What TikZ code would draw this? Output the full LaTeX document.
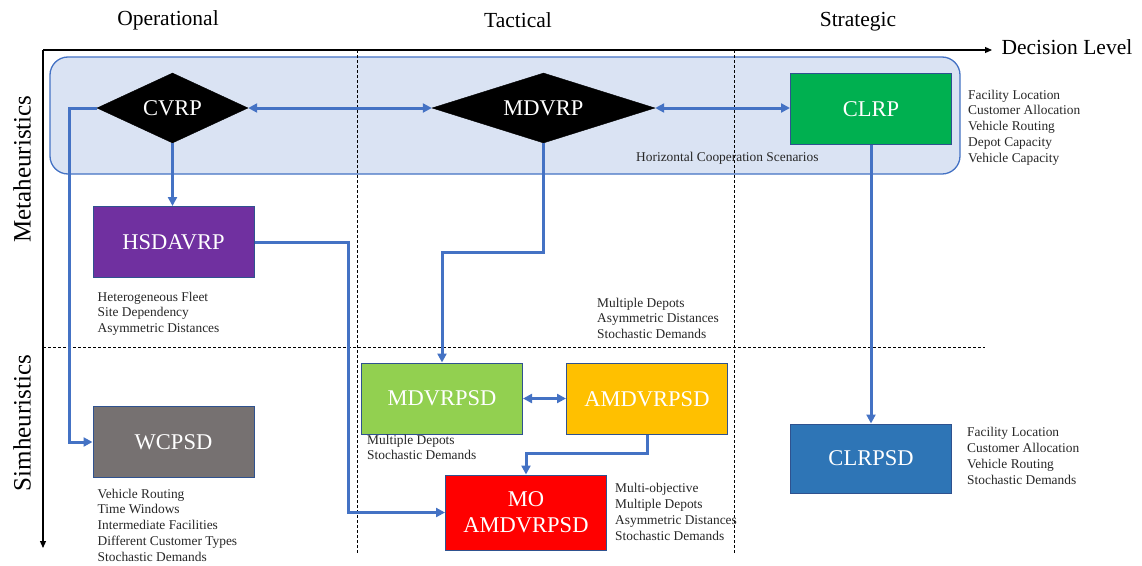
\documentclass[tikz,border=0pt]{standalone}
\usepackage{fontspec}
\setmainfont{Liberation Serif}
\usepackage{xcolor}
\usepackage{tikz}
\usetikzlibrary{positioning,arrows.meta,shapes.geometric}

\definecolor{linkblue}{HTML}{4472C4}
\definecolor{panelfill}{HTML}{DAE3F3}
\definecolor{boxline}{HTML}{2F528F}
\definecolor{clrpgreen}{HTML}{00B050}
\definecolor{hsdpurple}{HTML}{7030A0}
\definecolor{mdgreen}{HTML}{92D050}
\definecolor{amdorange}{HTML}{FFC000}
\definecolor{wcgray}{HTML}{767171}
\definecolor{mored}{HTML}{FF0000}
\definecolor{clrpsdblue}{HTML}{2E75B6}

\begin{document}
\begin{tikzpicture}[
  x=1pt, y=-1pt,
  block/.style={draw=boxline, line width=1pt, minimum width=161pt,
    minimum height=71pt, inner sep=0pt, align=center, text=white,
    font=\fontsize{22.5}{26}\selectfont},
  dia/.style={diamond, draw=black, fill=black, inner sep=0pt, text=white,
    minimum height=70pt, font=\fontsize{22.5}{26}\selectfont},
  lst/.style={inner sep=0pt, align=left, text=black!85,
    font=\fontsize{13.4}{15.9}\selectfont},
  lvl/.style={font=\fontsize{21.5}{25}\selectfont},
  side/.style={font=\fontsize{25}{29}\selectfont, rotate=90},
  axis/.style={line width=1.1pt, -{Triangle[length=7pt,width=6pt]}},
  sep/.style={line width=0.9pt, dash pattern=on 3pt off 2pt},
  link/.style={draw=linkblue, line width=3pt,
    -{Triangle[length=9pt,width=9pt]}},
  both/.style={link, {Triangle[length=9pt,width=9pt]}-{Triangle[length=9pt,width=9pt]}}
]
\useasboundingbox (0,0) rectangle (1142,565);
\draw[linkblue, line width=1.3pt, fill=panelfill, rounded corners=18pt] (50,57) rectangle (960,174);
\draw[sep] (357,50) -- (357,553);
\draw[sep] (734,50) -- (734,553);
\draw[sep] (43,347) -- (985,347);
\coordinate (origin) at (43,50);
\coordinate (yend) at (43,548);
\node[lvl, anchor=west] (declvl) at (998,47) {Decision Level};
\draw[axis] (origin) -- ([xshift=-6pt]declvl.west |- origin);
\draw[axis] (origin) -- (yend);
\node[lvl] (oper) at (168,20) {Operational};
\node[lvl] (tact) at (518,20) {Tactical};
\node[lvl] (strat) at (858,22) {Strategic};
\node[side] (meta) at (22,169) {Metaheuristics};
\node[side] (sim) at (22,423) {Simheuristics};

\node[dia, aspect=2.16, minimum width=151pt] (cvrp) at (172.5,108) {CVRP};
\node[dia, aspect=3.19, minimum width=223pt] (mdvrp) at (543.5,108) {MDVRP};
\node[block, fill=clrpgreen] (clrp) at (871,109) {CLRP};
\node[block, fill=hsdpurple] (hsdavrp) at (173.5,242) {HSDAVRP};
\node[block, fill=mdgreen] (mdvrpsd) at (442,398.5) {MDVRPSD};
\node[block, fill=amdorange] (amdvrpsd) at (647,399) {AMDVRPSD};
\node[block, fill=wcgray] (wcpsd) at (173.5,442) {WCPSD};
\node[block, fill=mored, minimum height=75pt] (mo) at (526,512.5) {MO\\AMDVRPSD};
\node[block, fill=clrpsdblue, minimum height=69pt] (clrpsd) at (871,458.5) {CLRPSD};

\node[lst, anchor=west] (hcs) at (636,158) {Horizontal Cooperation Scenarios};
\node[lst, below right=16.5pt and 16pt of clrp.north east] (clrpinfo) {Facility Location\\Customer Allocation\\Vehicle Routing\\Depot Capacity\\Vehicle Capacity};
\node[lst, below right=13.5pt and 5pt of hsdavrp.south west] (hsdinfo) {Heterogeneous Fleet\\Site Dependency\\Asymmetric Distances};
\node[lst, anchor=north west] (tacinfo) at (597,297.5) {Multiple Depots\\Asymmetric Distances\\Stochastic Demands};
\node[lst, below right=0pt and 6pt of mdvrpsd.south west] (mdinfo) {Multiple Depots\\Stochastic Demands};
\node[lst, below right=10.5pt and 5pt of wcpsd.south west] (wcinfo) {Vehicle Routing\\Time Windows\\Intermediate Facilities\\Different Customer Types\\Stochastic Demands};
\node[lst, below right=8.5pt and 8pt of mo.north east] (moinfo) {Multi-objective\\Multiple Depots\\Asymmetric Distances\\Stochastic Demands};
\node[lst, below right=3.5pt and 15pt of clrpsd.north east] (clrpsdinfo) {Facility Location\\Customer Allocation\\Vehicle Routing\\Stochastic Demands};

\draw[link] (cvrp.south) -- (cvrp.south |- hsdavrp.north);
\draw[link] (cvrp.west) -- ++(-27,0) |- (wcpsd.west);
\draw[both] (cvrp.east) -- (mdvrp.west);
\draw[both] (mdvrp.east) -- (clrp.west |- mdvrp.east);
\draw[link] (mdvrp.south) -- ++(0,109) -| (mdvrpsd.north);
\draw[link] (hsdavrp.east) -- ++(94,0) |- (mo.west);
\draw[both] (mdvrpsd.east) -- (amdvrpsd.west |- mdvrpsd.east);
\draw[link] (amdvrpsd.south) -- ++(0,18) -| (mo.north);
\draw[link] (clrp.south) -- (clrpsd.north);
\end{tikzpicture}
\end{document}
